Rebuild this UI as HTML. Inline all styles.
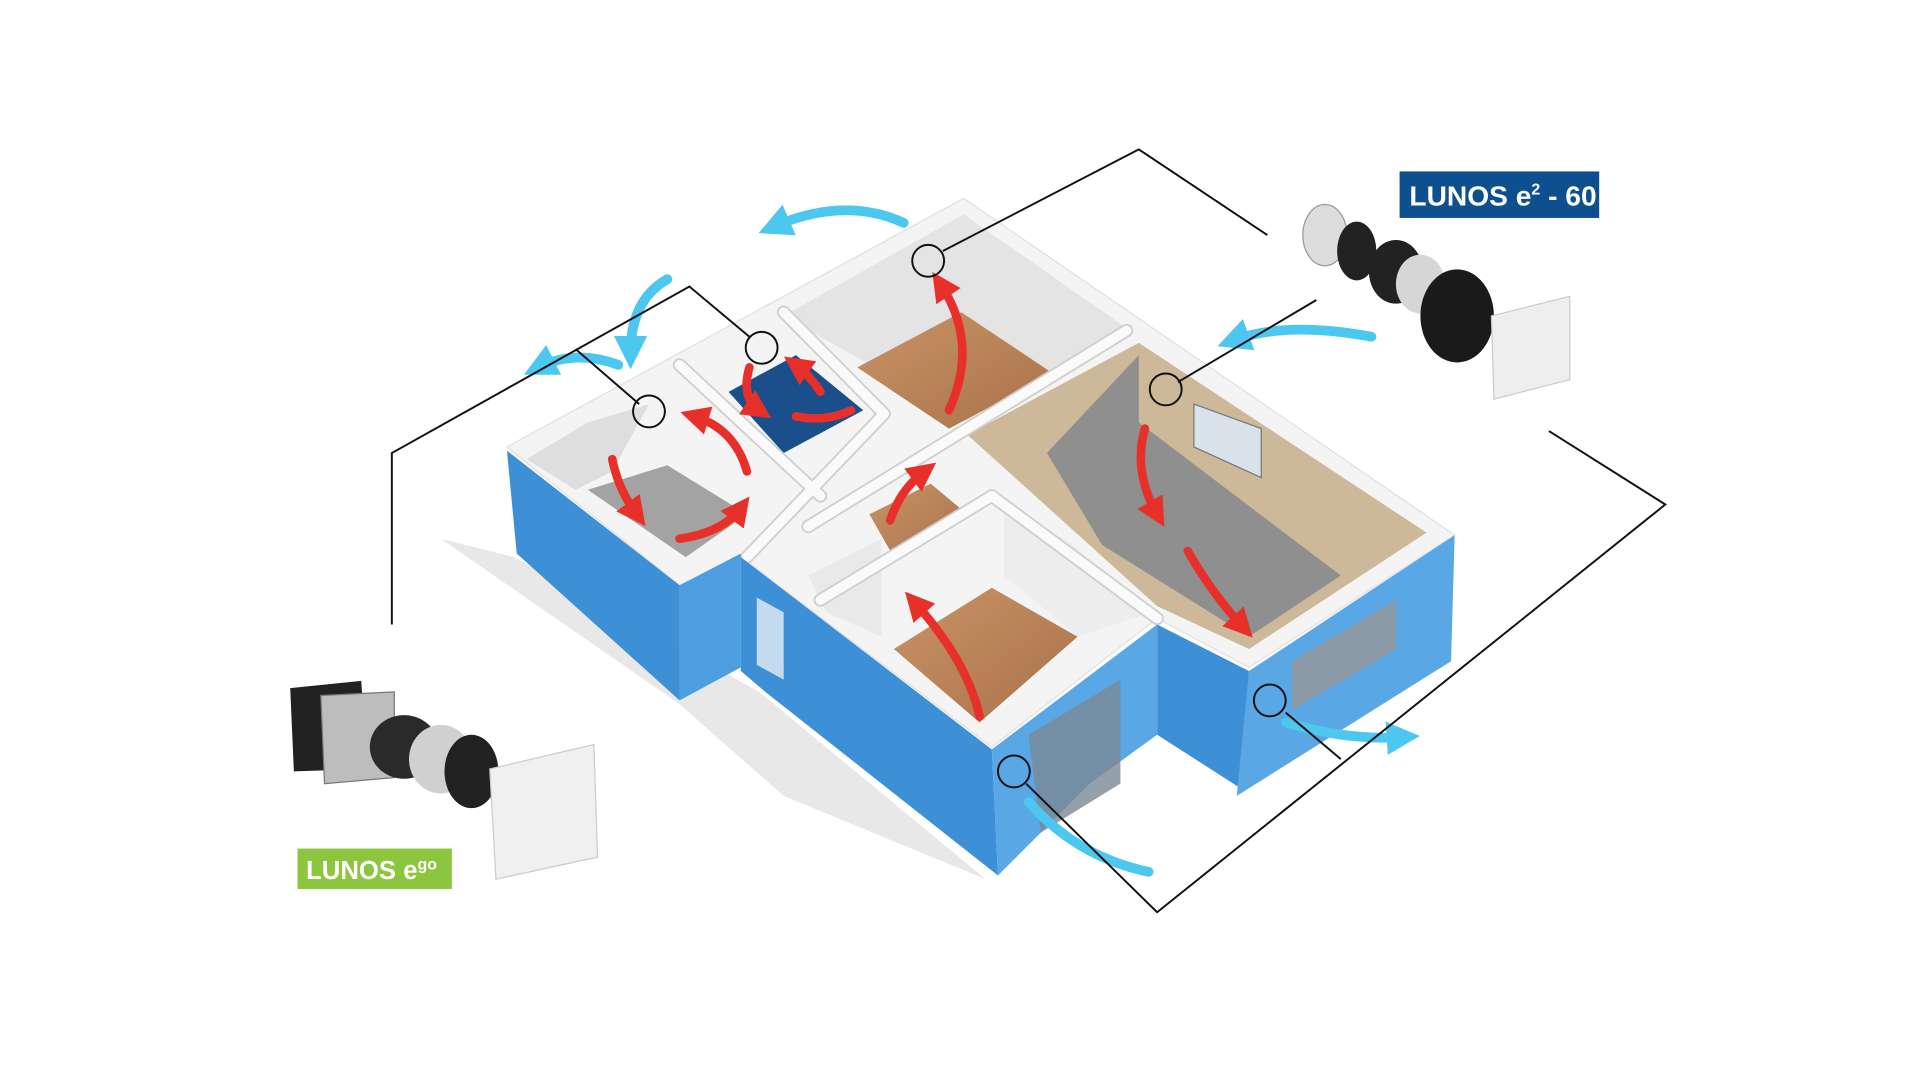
<!DOCTYPE html>
<html><head><meta charset="utf-8"><style>
html,body{margin:0;padding:0;background:#fff;width:1920px;height:1080px;overflow:hidden}
svg{display:block}
text{font-family:"Liberation Sans",sans-serif;font-weight:bold}
</style></head><body>
<svg width="1920" height="1080" viewBox="0 0 1568 882" preserveAspectRatio="none" xmlns="http://www.w3.org/2000/svg">
<defs>
<marker id="ar" markerWidth="3.4" markerHeight="3.4" refX="1.7" refY="1.7" orient="auto" markerUnits="strokeWidth"><path d="M0,0 L3.4,1.7 L0,3.4 z" fill="#e8302a"/></marker>
<marker id="ab" markerWidth="3.4" markerHeight="3.4" refX="1.7" refY="1.7" orient="auto" markerUnits="strokeWidth"><path d="M0,0 L3.4,1.7 L0,3.4 z" fill="#4cc8f0"/></marker>
<linearGradient id="wd" x1="0" y1="0" x2="1" y2="1"><stop offset="0" stop-color="#c99466"/><stop offset="1" stop-color="#a9714a"/></linearGradient>
</defs>
<!-- shadow -->
<polygon points="360,440 555,575 640,650 805,718 620,565 420,455" fill="#e8e8e8"/>
<!-- footprint top -->
<polygon points="414,365 787,162 1188,437 1020,545 945,505 810,610 605,455 555,478" fill="#f4f4f4" stroke="#e0e0e0"/>
<!-- interior walls (light grey) -->
<polygon points="640,258 787,175 920,268 790,345 700,292" fill="#e4e4e4"/>
<polygon points="790,355 930,280 1165,435 1020,530 945,495" fill="#cdb89a"/>
<polygon points="855,370 930,290 930,345 1095,470 1020,520 900,445" fill="#8f8f8f"/>
<!-- floors -->
<polygon points="700,300 785,255 860,305 775,350" fill="url(#wd)"/>
<polygon points="730,530 810,480 880,520 800,590" fill="url(#wd)"/>
<polygon points="710,420 760,395 790,420 730,455" fill="url(#wd)"/>
<polygon points="595,320 650,290 705,335 640,370" fill="#1b4f8c"/>
<polygon points="480,400 545,380 610,420 560,455" fill="#a3a3a3"/>
<polygon points="430,375 480,345 530,330 500,385 470,400" fill="#dedede"/>
<polygon points="660,470 720,440 720,520 675,500" fill="#e9e9e9"/>
<polygon points="820,420 870,440 940,500 880,520 820,470" fill="#ededed"/>
<!-- wall tops -->
<g fill="none" stroke-linecap="round">
<g stroke="#cfcfcf" stroke-width="11">
<path d="M555,298 L670,405"/><path d="M640,255 L722,338"/><path d="M722,338 L610,455"/>
<path d="M790,350 L660,430"/><path d="M920,270 L790,350"/><path d="M810,405 L670,490"/><path d="M810,405 L945,505"/>
</g>
<g stroke="#fafafa" stroke-width="8">
<path d="M555,298 L670,405"/><path d="M640,255 L722,338"/><path d="M722,338 L610,455"/>
<path d="M790,350 L660,430"/><path d="M920,270 L790,350"/><path d="M810,405 L670,490"/><path d="M810,405 L945,505"/>
</g>
</g>
<!-- blue outer faces -->
<polygon points="414,368 555,478 555,572 422,452" fill="#3d8fd6"/>
<polygon points="555,478 605,452 605,545 555,572" fill="#4d9ee0"/>
<polygon points="605,455 810,612 815,715 625,565 605,548" fill="#3d8fd6"/>
<polygon points="810,612 945,510 945,600 890,640 830,700 815,715" fill="#5aa7e6"/>
<polygon points="945,510 1020,548 1015,645 945,600" fill="#3d8fd6"/>
<polygon points="1020,548 1188,437 1185,540 1010,650" fill="#5aa7e6"/>
<!-- windows/doors -->
<polygon points="840,600 915,555 915,640 850,680" fill="#7b8a95" opacity="0.8"/>
<polygon points="1055,540 1140,490 1140,530 1055,580" fill="#8a99a5"/>
<polygon points="618,488 640,500 640,555 618,543" fill="#c4dbef"/>
<polygon points="975,330 1030,350 1030,390 975,365" fill="#d8e2ea" stroke="#777"/>
<!-- blue arrows -->
<g fill="none" stroke="#4cc8f0" stroke-width="8" stroke-linecap="round">
<path d="M738,182 Q690,160 632,185" marker-end="url(#ab)"/>
<path d="M545,228 Q515,245 515,288" marker-end="url(#ab)"/>
<path d="M505,298 Q470,285 440,300" marker-end="url(#ab)"/>
<path d="M1120,275 Q1050,262 1007,278" marker-end="url(#ab)"/>
<path d="M1050,590 Q1100,605 1146,602" marker-end="url(#ab)"/>
<path d="M840,655 Q880,700 938,712"/>
</g>
<!-- red arrows -->
<g fill="none" stroke="#e8302a" stroke-width="7" stroke-linecap="round">
<path d="M775,335 Q800,280 768,232" marker-end="url(#ar)"/>
<path d="M500,375 Q505,400 520,420" marker-end="url(#ar)"/>
<path d="M555,440 Q590,435 605,415" marker-end="url(#ar)"/>
<path d="M610,385 Q600,350 567,340" marker-end="url(#ar)"/>
<path d="M612,300 Q605,325 620,335" marker-end="url(#ar)"/>
<path d="M650,340 Q675,345 695,335"/>
<path d="M670,320 Q660,305 650,298" marker-end="url(#ar)"/>
<path d="M727,425 Q735,400 755,385" marker-end="url(#ar)"/>
<path d="M800,585 Q790,540 747,492" marker-end="url(#ar)"/>
<path d="M935,350 Q925,385 945,420" marker-end="url(#ar)"/>
<path d="M970,450 Q990,485 1015,512" marker-end="url(#ar)"/>
</g>
<!-- black leader lines -->
<g fill="none" stroke="#111" stroke-width="1.6">
<polyline points="320,510 320,370 563,234 612,275"/>
<polyline points="470,285 522,330"/>
<polyline points="770,205 930,122 1035,192"/>
<polyline points="962,312 1075,245"/>
<polyline points="1265,352 1360,412 945,745 838,640"/>
<polyline points="1050,582 1095,620"/>
<circle cx="758" cy="213" r="13"/><circle cx="622" cy="284" r="13"/>
<circle cx="530" cy="336" r="13"/><circle cx="952" cy="318" r="13"/>
<circle cx="1037" cy="572" r="13"/><circle cx="828" cy="630" r="13"/>
</g>
<!-- right product -->
<g>
<ellipse cx="1082" cy="192" rx="18" ry="25" fill="#ddd" stroke="#999"/>
<ellipse cx="1108" cy="205" rx="16" ry="24" fill="#222"/>
<ellipse cx="1140" cy="222" rx="22" ry="26" fill="#222"/>
<ellipse cx="1160" cy="232" rx="20" ry="24" fill="#d6d6d6"/>
<ellipse cx="1190" cy="258" rx="30" ry="38" fill="#1a1a1a"/>
<polygon points="1218,258 1282,242 1282,310 1220,326" fill="#eeeeee" stroke="#ccc"/>
</g>
<!-- left product -->
<g>
<polygon points="237,562 295,556 300,628 240,630" fill="#222"/>
<polygon points="262,568 322,565 322,635 265,640" fill="#bdbdbd" stroke="#777"/>
<ellipse cx="330" cy="610" rx="28" ry="26" fill="#2a2a2a"/>
<ellipse cx="360" cy="620" rx="26" ry="28" fill="#d0d0d0"/>
<ellipse cx="385" cy="630" rx="22" ry="30" fill="#222"/>
<polygon points="400,628 485,608 488,700 405,718" fill="#f0f0f0" stroke="#ccc"/>
</g>
<!-- labels -->
<rect x="1143" y="140" width="163" height="38" fill="#0d4f8f"/>
<text x="1151" y="168" font-size="23" fill="#fff">LUNOS e<tspan font-size="13" dy="-9">2</tspan><tspan dy="9"> - 60</tspan></text>
<rect x="243" y="693" width="126" height="33" fill="#8cc63f"/>
<text x="250" y="718" font-size="21" fill="#fff">LUNOS e<tspan font-size="13" dy="-8">go</tspan></text>
</svg>
</body></html>
